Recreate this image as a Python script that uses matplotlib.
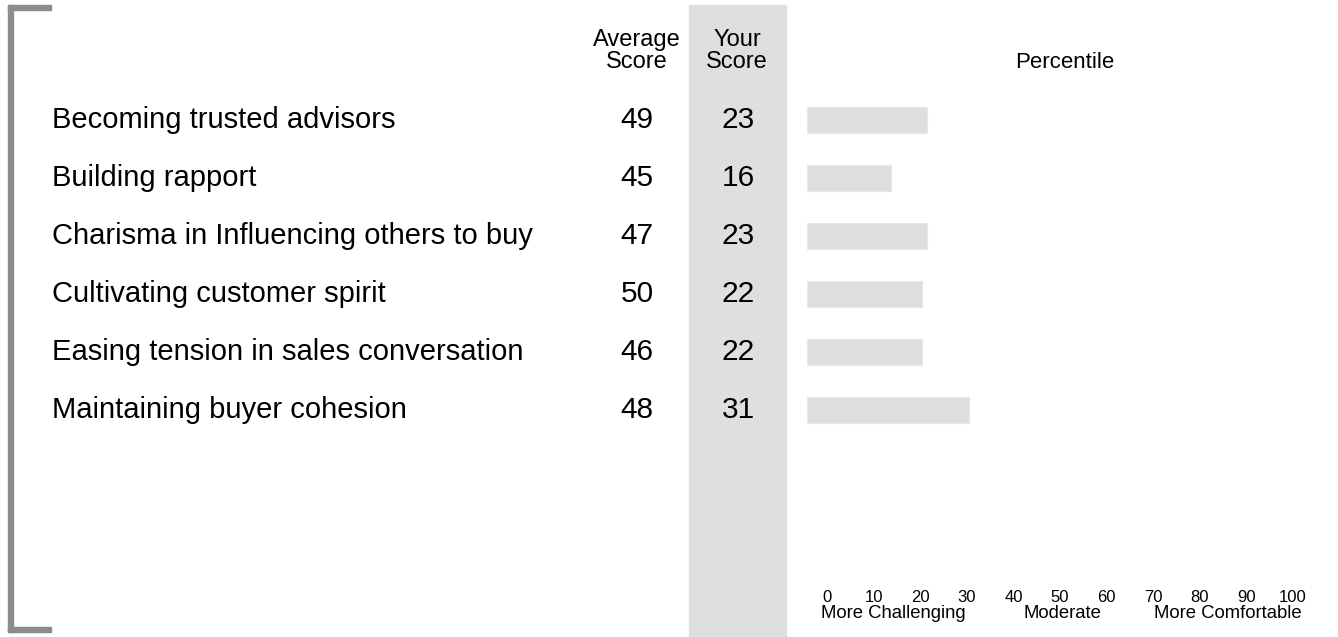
import matplotlib
matplotlib.use("Agg")
import matplotlib.pyplot as plt
from matplotlib.patches import Rectangle
from matplotlib.transforms import blended_transform_factory

plt.rcParams['font.family'] = ['Liberation Sans', 'DejaVu Sans']

# data
skills = ["Becoming trusted advisors", "Building rapport",
          "Charisma in Influencing others to buy", "Cultivating customer spirit",
          "Easing tension in sales conversation", "Maintaining buyer cohesion"]
avg_score = [49, 45, 47, 50, 46, 48]
your_score = [23, 16, 23, 22, 22, 31]
tick_vals = [0, 10, 20, 30, 40, 50, 60, 70, 80, 90, 100]
zone_labels = ["More Challenging", "Moderate", "More Comfortable"]

W, H = 1338, 637
fig = plt.figure(figsize=(W / 100, H / 100), dpi=100)

# bar area: 0..100 spans pixel 807..1329
ax = fig.add_axes([807 / W, 0, 522 / W, 1])
ax.set_xlim(0, 100)
row0, step = 120, 58
ax.set_ylim((H - row0) / step, -row0 / step)
ax.axis('off')

rows = list(range(len(skills)))
ax.barh(rows, your_score, height=0.45, color='#dedede', edgecolor='#e8e8e8', lw=0.8)

tr = blended_transform_factory(fig.transFigure, ax.transData)
for i in rows:
    fig.text(52 / W, i, skills[i], transform=tr, fontsize=21, va='center', ha='left')
    fig.text(637 / W, i, str(avg_score[i]), transform=tr, fontsize=21.5, va='center', ha='center')
    fig.text(738 / W, i, str(your_score[i]), transform=tr, fontsize=21.5, va='center', ha='center')

# shaded "your score" column, behind everything
fig.patches.append(Rectangle((689 / W, 0), 97 / W, (H - 5) / H, transform=fig.transFigure,
                             color='#dfdfdf', zorder=-1))

# grey bracket on the left
bc = '#8c8c8c'
fig.patches.append(Rectangle((8 / W, 5 / H), 5 / W, (H - 10) / H, transform=fig.transFigure, color=bc))
fig.patches.append(Rectangle((8 / W, (H - 10) / H), 43 / W, 5 / H, transform=fig.transFigure, color=bc))
fig.patches.append(Rectangle((8 / W, 5 / H), 43 / W, 5 / H, transform=fig.transFigure, color=bc))

# headers
hs = 17
fig.text(637 / W, 1 - 40 / H, "Average", fontsize=hs, ha='center', va='center')
fig.text(637 / W, 1 - 62 / H, "Score", fontsize=hs, ha='center', va='center')
fig.text(737 / W, 1 - 40 / H, "Your", fontsize=hs, ha='center', va='center')
fig.text(737 / W, 1 - 62 / H, "Score", fontsize=hs, ha='center', va='center')
fig.text(1065 / W, 1 - 62 / H, "Percentile", fontsize=16, ha='center', va='center')

# percentile scale labels
tx = blended_transform_factory(ax.transAxes, fig.transFigure)
for k, v in enumerate(tick_vals):
    xf = (827 + k * 46.6 - 807) / 522
    ax.text(xf, 1 - 597 / H, str(v), transform=tx, fontsize=12, ha='center', va='center')
for lab, px in zip(zone_labels, [893, 1062, 1228]):
    ax.text((px - 807) / 522, 1 - 613 / H, lab, transform=tx, fontsize=13.3, ha='center', va='center')

fig.savefig("out.png", dpi=100)
